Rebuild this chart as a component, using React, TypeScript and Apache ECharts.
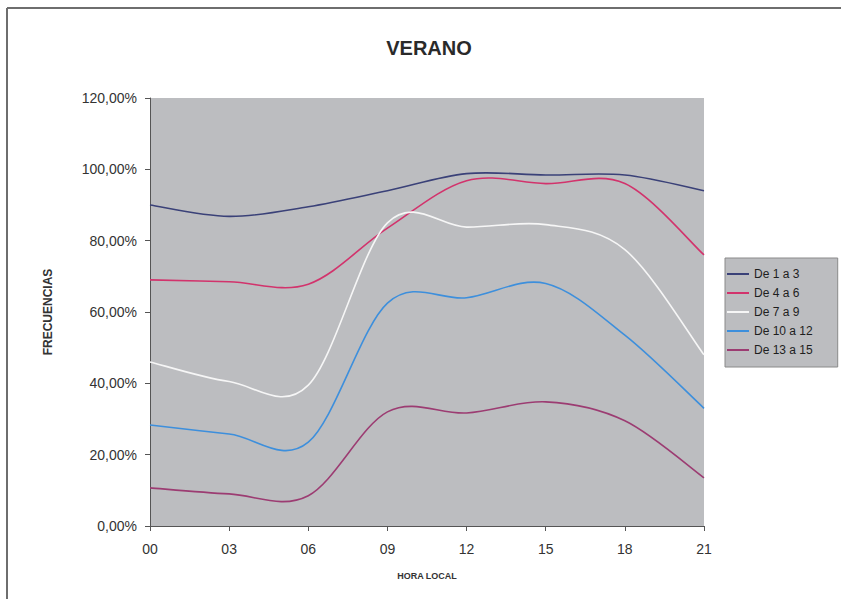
import React, { useEffect, useRef } from "react";
import * as echarts from "echarts";

const horas = ["00", "03", "06", "09", "12", "15", "18", "21"];
const de1a3 = [90.0, 86.8, 89.5, 94.0, 98.8, 98.4, 98.4, 94.0];
const de4a6 = [69.0, 68.5, 67.8, 83.5, 96.8, 96.0, 96.0, 76.0];
const de7a9 = [46.0, 40.5, 39.5, 85.0, 83.8, 84.5, 77.5, 48.0];
const de10a12 = [28.3, 25.8, 23.5, 62.5, 64.0, 68.0, 53.5, 33.0];
const de13a15 = [10.7, 9.0, 8.5, 32.0, 31.7, 34.8, 29.5, 13.5];

const nombres = ["De 1 a 3", "De 4 a 6", "De 7 a 9", "De 10 a 12", "De 13 a 15"];
const colores = ["#3a4178", "#d2336c", "#f6f6f6", "#3d8fdc", "#9c3c72"];
const valores = [de1a3, de4a6, de7a9, de10a12, de13a15];

const FONT = "'Liberation Sans', Arial, sans-serif";

// Smoothed line through every point (Catmull-Rom segments as cubic Béziers).
function curva(pts: number[][]): string {
  let d = `M${pts[0][0]},${pts[0][1]}`;
  for (let i = 0; i < pts.length - 1; i++) {
    const p0 = pts[Math.max(i - 1, 0)];
    const p1 = pts[i];
    const p2 = pts[i + 1];
    const p3 = pts[Math.min(i + 2, pts.length - 1)];
    const c1x = p1[0] + (p2[0] - p0[0]) / 6;
    const c1y = p1[1] + (p2[1] - p0[1]) / 6;
    const c2x = p2[0] - (p3[0] - p1[0]) / 6;
    const c2y = p2[1] - (p3[1] - p1[1]) / 6;
    d += ` C${c1x},${c1y} ${c2x},${c2y} ${p2[0]},${p2[1]}`;
  }
  return d;
}

export default function App() {
  const ref = useRef<HTMLDivElement>(null);

  useEffect(() => {
    document.body.style.margin = "0";
    if (!ref.current) return;
    const chart = echarts.init(ref.current, undefined, { renderer: "svg" });
    chart.setOption({
      animation: false,
      backgroundColor: "#ffffff",
      textStyle: { fontFamily: FONT },
      title: {
        text: "VERANO",
        left: 429,
        top: 38,
        textAlign: "center",
        padding: 0,
        textStyle: { fontFamily: FONT, fontSize: 20, fontWeight: "bold", color: "#2a2a2a" },
      },
      graphic: [
        { type: "line", shape: { x1: 7, y1: 8, x2: 841, y2: 8 }, style: { stroke: "#6e6e6e", lineWidth: 2 } },
        { type: "line", shape: { x1: 7, y1: 8, x2: 7, y2: 599 }, style: { stroke: "#6e6e6e", lineWidth: 2 } },
      ],
      legend: {
        orient: "vertical",
        left: 725,
        top: 258,
        padding: [10, 25, 11, 2],
        backgroundColor: "#bcbdc0",
        borderColor: "#8a8a8a",
        borderWidth: 1,
        icon: "rect",
        itemWidth: 22,
        itemHeight: 2,
        itemGap: 7,
        textStyle: { fontFamily: FONT, fontSize: 12, color: "#1e1e1e", lineHeight: 12 },
        data: nombres,
      },
      grid: {
        left: 150,
        top: 98,
        width: 554,
        height: 428,
        show: true,
        backgroundColor: "#bcbdc0",
        borderWidth: 0,
      },
      xAxis: {
        type: "category",
        data: horas,
        boundaryGap: false,
        name: "HORA LOCAL",
        nameLocation: "middle",
        nameGap: 45,
        nameTextStyle: { fontFamily: FONT, fontSize: 9, fontWeight: "bold", color: "#333" },
        axisLine: { lineStyle: { color: "#555", width: 1 } },
        axisTick: { show: true, alignWithLabel: true, length: 5, lineStyle: { color: "#555" } },
        axisLabel: { fontFamily: FONT, fontSize: 14, color: "#333", margin: 16 },
        splitLine: { show: false },
      },
      yAxis: {
        type: "value",
        min: 0,
        max: 120,
        interval: 20,
        name: "FRECUENCIAS",
        nameLocation: "middle",
        nameGap: 96,
        nameRotate: 90,
        nameTextStyle: { fontFamily: FONT, fontSize: 12, fontWeight: "bold", color: "#333" },
        axisLine: { show: true, lineStyle: { color: "#555", width: 1 } },
        axisTick: { show: true, length: 5, lineStyle: { color: "#555" } },
        axisLabel: {
          fontFamily: FONT,
          fontSize: 14,
          color: "#333",
          margin: 13,
          formatter: (v: number) => v.toFixed(2).replace(".", ",") + "%",
        },
        splitLine: { show: false },
      },
      series: nombres.map((n, i) => ({
        name: n,
        type: "custom",
        data: valores[i].map((v, k) => [k, v]),
        encode: { x: 0, y: 1 },
        itemStyle: { color: colores[i] },
        renderItem: (params: any, api: any) => {
          if (params.dataIndex !== 0) return null;
          const pts = valores[i].map((v, k) => api.coord([k, v]));
          return {
            type: "path",
            shape: { pathData: curva(pts) },
            style: { fill: "none", stroke: colores[i], lineWidth: 1.6 },
          };
        },
      })),
    });
    return () => chart.dispose();
  }, []);

  return <div ref={ref} style={{ width: 841, height: 599 }} />;
}
